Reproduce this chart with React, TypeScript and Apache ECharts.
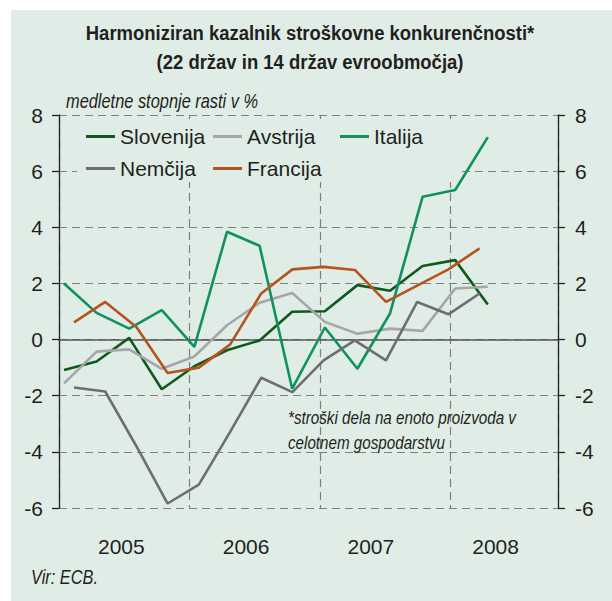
import React, { useEffect, useRef } from "react";
import * as echarts from "echarts";

const quarters = ["2005Q1","2005Q2","2005Q3","2005Q4","2006Q1","2006Q2","2006Q3","2006Q4","2007Q1","2007Q2","2007Q3","2007Q4","2008Q1","2008Q2"];
const years = ["2005", "2006", "2007", "2008"];
const slovenija = [-1.08, -0.78, 0.06, -1.77, -0.95, -0.38, -0.03, 0.99, 1.01, 1.94, 1.74, 2.62, 2.83, 1.25];
const avstrija = [-1.56, -0.43, -0.35, -1.04, -0.6, 0.51, 1.31, 1.66, 0.63, 0.21, 0.39, 0.31, 1.82, 1.88];
const italija = [2.0, 0.95, 0.39, 1.05, -0.26, 3.84, 3.34, -1.75, 0.43, -1.04, 0.93, 5.09, 5.33, 7.21];
const nemcija = [-1.71, -1.85, -3.8, -5.84, -5.17, -3.3, -1.36, -1.87, -0.74, -0.03, -0.74, 1.34, 0.9, 1.64];
const francija = [0.61, 1.34, 0.45, -1.19, -1.0, -0.18, 1.64, 2.5, 2.59, 2.48, 1.34, 1.92, 2.5, 3.25];
const yTicks = { min: -6, max: 8, interval: 2 };

const FONT = "'Liberation Sans', Arial, sans-serif";
const TXT = "#231f20";
const BG = "#dfede6";
const GRIDC = "#7f7f7f";
const NARROW = 0.82;

export default function App() {
  const ref = useRef<HTMLDivElement>(null);
  useEffect(() => {
    if (!ref.current) return;
    const chart = echarts.init(ref.current, null, { renderer: "svg" });
    const pairs = (arr: number[]) => arr.map((v, i) => [i, v]);
    const mkSeries = (name: string, data: number[], color: string, xi: number) => ({
      name,
      type: "line",
      xAxisIndex: xi,
      yAxisIndex: 0,
      data: pairs(data),
      symbol: "none",
      lineStyle: { color, width: 2.6 },
      itemStyle: { color },
      z: 3,
    });
    const legendItem = (name: string, left: number, top: number) => ({
      data: [name],
      left,
      top,
      padding: 0,
      icon: "rect",
      itemWidth: 29,
      itemHeight: 3,
      textStyle: { fontFamily: FONT, fontSize: 21, color: TXT },
    });
    const txt = (text: string, x: number, y: number, font: string, align: string, sx: number = NARROW) => ({
      type: "text", z: 5, x, y, scaleX: sx, scaleY: 1,
      style: { text, fill: TXT, font, textAlign: align, textVerticalAlign: "middle", align, verticalAlign: "middle" },
    });
    const option: any = {
      animation: false,
      backgroundColor: "transparent",
      textStyle: { fontFamily: FONT },
      grid: { left: 59, right: 54, top: 115, bottom: 93 },
      legend: [
        legendItem("Slovenija", 86, 126),
        legendItem("Avstrija", 213, 126),
        legendItem("Italija", 340, 126),
        legendItem("Nemčija", 86, 158),
        legendItem("Francija", 213, 158),
      ],
      xAxis: [
        {
          type: "value", min: -0.153, max: 15.153,
          axisLine: { show: true, onZero: true, lineStyle: { color: "#555", width: 1.6 } },
          axisTick: { show: false }, axisLabel: { show: false }, splitLine: { show: false },
        },
        {
          type: "value", min: -0.481, max: 15.513, show: false,
        },
        {
          type: "value", min: 0, max: 3.827, interval: 1,
          axisLine: { show: false }, axisTick: { show: false }, axisLabel: { show: false },
          splitLine: { show: true, lineStyle: { color: GRIDC, type: [8, 5], width: 1.2 } },
        },
        {
          type: "category", data: years, boundaryGap: true, position: "bottom",
          axisLine: { show: false }, axisTick: { show: false }, splitLine: { show: false },
          axisLabel: { fontFamily: FONT, fontSize: 21, color: TXT, margin: 28 },
        },
      ],
      yAxis: [
        {
          type: "value", position: "left", ...yTicks,
          axisLine: { show: true, onZero: false, lineStyle: { color: "#222", width: 1.3 } },
          axisTick: { show: true, inside: false, length: 7, lineStyle: { color: "#222", width: 1.3 } },
          axisLabel: { fontFamily: FONT, fontSize: 21, color: TXT, margin: 16 },
          splitLine: { show: true, lineStyle: { color: GRIDC, type: [8, 5], width: 1.2 } },
        },
        {
          type: "value", position: "right", ...yTicks,
          axisLine: { show: true, onZero: false, lineStyle: { color: "#222", width: 1.3 } },
          axisTick: { show: true, inside: false, length: 7, lineStyle: { color: "#222", width: 1.3 } },
          axisLabel: { fontFamily: FONT, fontSize: 21, color: TXT, margin: 17 },
          splitLine: { show: false },
        },
      ],
      graphic: [
        { type: "rect", z: 1, shape: { x: 77, y: 119, width: 381, height: 63 }, style: { fill: BG } },
        txt("Harmoniziran kazalnik stroškovne konkurenčnosti*", 310, 33, `bold 21px ${FONT}`, "center", 0.88),
        txt("(22 držav in 14 držav evroobmočja)", 310, 62, `bold 21px ${FONT}`, "center", 0.88),
        txt("medletne stopnje rasti v %", 66, 101, `italic 20px ${FONT}`, "left"),
        txt("*stroški dela na enoto proizvoda v", 288, 417, `italic 19px ${FONT}`, "left", 0.8),
        txt("celotnem gospodarstvu", 288, 442, `italic 19px ${FONT}`, "left", 0.8),
        txt("Vir: ECB.", 31, 577, `italic 20px ${FONT}`, "left"),
      ],
      series: [
        mkSeries("Slovenija", slovenija, "#0e5a1e", 0),
        mkSeries("Avstrija", avstrija, "#a6a6a6", 0),
        mkSeries("Italija", italija, "#119060", 0),
        mkSeries("Nemčija", nemcija, "#6e6e70", 1),
        mkSeries("Francija", francija, "#b5541c", 1),
      ],
    };
    chart.setOption(option);
    return () => chart.dispose();
  }, []);
  return (
    <div style={{ position: "fixed", left: 0, top: 0, width: 612, height: 601, background: "#fff" }}>
      <div style={{ position: "absolute", left: 11, top: 10, width: 601, height: 591, background: BG }} />
      <div ref={ref} style={{ position: "absolute", left: 0, top: 0, width: 612, height: 601 }} />
    </div>
  );
}
